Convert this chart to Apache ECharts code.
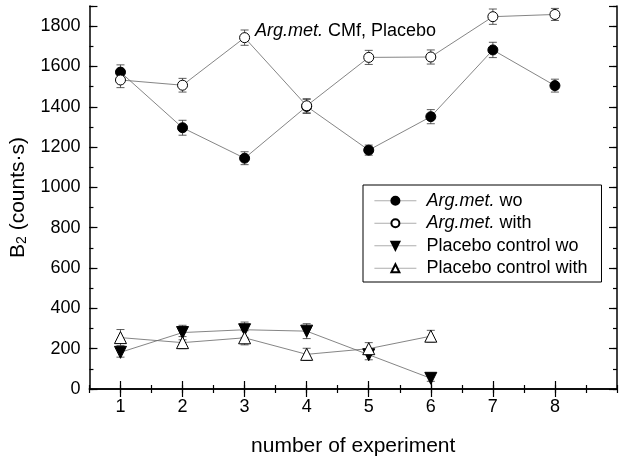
<!DOCTYPE html>
<html>
<head>
<meta charset="utf-8">
<script src="https://cdn.jsdelivr.net/npm/echarts@6/dist/echarts.min.js"></script>
<style>
  html, body { margin: 0; padding: 0; background: #fff; }
  #chart { width: 620px; height: 462px; }
</style>
</head>
<body>
<div id="chart"></div>
<script>
const experiments = [1, 2, 3, 4, 5, 6, 7, 8]
const argWo = [1572, 1296, 1145, 1402, 1185, 1351, 1682, 1505]
const argWoErr = [36, 37, 32, 35, 25, 35, 38, 32]
const argWith = [1533, 1507, 1743, 1405, 1645, 1647, 1847, 1858]
const argWithErr = [38, 34, 38, 35, 35, 35, 38, 30]
const placWo = [182, 280, 294, 287, 170, 53]
const placWoErr = [24, 36, 38, 37, 25, 15]
const placWith = [255, 230, 254, 172, 200, 262]
const placWithErr = [40, 30, 35, 30, 30, 29]
const xMajorTicks = [1, 2, 3, 4, 5, 6, 7, 8]

const font = 'Liberation Sans, Arial, Helvetica, sans-serif'
const chart = echarts.init(document.getElementById('chart'))

function pairs(vals) {
  return vals.map((v, i) => [experiments[i], v])
}
function errData(vals, errs) {
  return vals.map((v, i) => [experiments[i], v - errs[i], v + errs[i]])
}
function errSeries(name, vals, errs) {
  return {
    name: name,
    type: 'custom',
    z: 1,
    silent: true,
    data: errData(vals, errs),
    renderItem: function(params, api) {
      const lo = api.coord([api.value(0), api.value(1)])
      const hi = api.coord([api.value(0), api.value(2)])
      const w = 4
      const style = { stroke: '#333', lineWidth: 0.8 }
      return {
        type: 'group',
        children: [
          { type: 'line', shape: { x1: lo[0], y1: lo[1], x2: hi[0], y2: hi[1] }, style: style },
          { type: 'line', shape: { x1: lo[0] - w, y1: lo[1], x2: lo[0] + w, y2: lo[1] }, style: style },
          { type: 'line', shape: { x1: hi[0] - w, y1: hi[1], x2: hi[0] + w, y2: hi[1] }, style: style }
        ]
      }
    }
  }
}
function lineSeries(name, vals, symbol, rotate, size, filled) {
  return {
    name: name,
    type: 'line',
    z: 3,
    data: pairs(vals),
    symbol: symbol,
    symbolRotate: rotate,
    symbolSize: size,
    showAllSymbol: true,
    animation: false,
    lineStyle: { color: '#666', width: 0.8 },
    itemStyle: { color: filled ? '#000' : '#fff', borderColor: '#000', borderWidth: 1 }
  }
}

const axisLine = { show: true, lineStyle: { color: '#000', width: 1.5 } }
const xBase = { type: 'value', min: 0.5, max: 9, splitLine: { show: false } }
const yBase = { type: 'value', min: 0, max: 1900, splitLine: { show: false } }

chart.setOption({
  animation: false,
  grid: { left: 87, right: 2, top: 6, bottom: 61, containLabel: false },
  title: {
    text: '{i|Arg.met.} CMf, Placebo',
    left: 255,
    top: 22,
    padding: 0,
    textStyle: {
      fontFamily: font, fontSize: 18, fontWeight: 'normal', color: '#000',
      rich: { i: { fontFamily: font, fontSize: 18, fontStyle: 'italic', color: '#000' } }
    }
  },
  legend: {
    data: ['Arg.met. wo', 'Arg.met. with', 'Placebo control wo', 'Placebo control with'],
    orient: 'vertical',
    left: 363,
    top: 185,
    width: 243,
    padding: [5, 14, 3, 11],
    itemGap: 1,
    itemWidth: 42,
    itemHeight: 10,
    borderColor: '#000',
    borderWidth: 1,
    borderRadius: 0,
    selectedMode: false,
    lineStyle: { color: '#999', width: 0.8 },
    formatter: function(name) {
      if (name.indexOf('Arg.met. ') === 0) return '{i|Arg.met.} ' + name.slice(9)
      return name
    },
    textStyle: {
      fontFamily: font, fontSize: 18, color: '#000', lineHeight: 21.5, padding: [0, 0, 0, 5],
      rich: { i: { fontFamily: font, fontSize: 18, fontStyle: 'italic', color: '#000' } }
    }
  },
  xAxis: [
    Object.assign({}, xBase, {
      position: 'bottom',
      interval: 0.5,
      name: 'number of experiment',
      nameLocation: 'middle',
      nameGap: 47,
      nameTextStyle: { fontFamily: font, fontSize: 21, color: '#000' },
      axisLine: axisLine,
      axisTick: { show: true, inside: true, length: 4, lineStyle: { color: '#000', width: 1.2 } },
      axisLabel: {
        margin: 9, fontFamily: font, fontSize: 18, color: '#000',
        formatter: v => (Number.isInteger(v) && v <= 8 ? String(v) : '')
      }
    }),
    Object.assign({}, xBase, {
      position: 'bottom',
      axisLine: { show: false },
      axisTick: { show: true, inside: true, length: 8, customValues: xMajorTicks, lineStyle: { color: '#000', width: 1.2 } },
      axisLabel: { show: false }
    }),
    Object.assign({}, xBase, {
      position: 'top',
      interval: 0.5,
      axisLine: axisLine,
      axisTick: { show: true, inside: true, length: 4, lineStyle: { color: '#000', width: 1.2 } },
      axisLabel: { show: false }
    }),
    Object.assign({}, xBase, {
      position: 'top',
      axisLine: { show: false },
      axisTick: { show: true, inside: true, length: 8, customValues: xMajorTicks, lineStyle: { color: '#000', width: 1.2 } },
      axisLabel: { show: false }
    })
  ],
  yAxis: [
    Object.assign({}, yBase, {
      position: 'left',
      interval: 100,
      name: '{a|B}{s|2}{a| (counts·s)}',
      nameLocation: 'middle',
      nameGap: 55,
      nameRotate: 90,
      nameTextStyle: {
        fontFamily: font, fontSize: 21, color: '#000',
        rich: {
          a: { fontFamily: font, fontSize: 21, color: '#000' },
          s: { fontFamily: font, fontSize: 14, color: '#000', verticalAlign: 'bottom', padding: [8, 0, 0, 0] }
        }
      },
      axisLine: axisLine,
      axisTick: { show: true, inside: true, length: 4, lineStyle: { color: '#000', width: 1.2 } },
      axisLabel: {
        margin: 9, fontFamily: font, fontSize: 18, color: '#000',
        formatter: v => (v % 200 === 0 ? String(v) : '')
      }
    }),
    Object.assign({}, yBase, {
      position: 'left',
      interval: 200,
      axisLine: { show: false },
      axisTick: { show: true, inside: true, length: 8, lineStyle: { color: '#000', width: 1.2 } },
      axisLabel: { show: false }
    }),
    Object.assign({}, yBase, {
      position: 'right',
      interval: 100,
      axisLine: axisLine,
      axisTick: { show: true, inside: true, length: 4, lineStyle: { color: '#000', width: 1.2 } },
      axisLabel: { show: false }
    }),
    Object.assign({}, yBase, {
      position: 'right',
      interval: 200,
      axisLine: { show: false },
      axisTick: { show: true, inside: true, length: 8, lineStyle: { color: '#000', width: 1.2 } },
      axisLabel: { show: false }
    })
  ],
  series: [
    errSeries('err1', argWo, argWoErr),
    errSeries('err2', argWith, argWithErr),
    errSeries('err3', placWo, placWoErr),
    errSeries('err4', placWith, placWithErr),
    lineSeries('Arg.met. wo', argWo, 'circle', 0, 10, true),
    lineSeries('Arg.met. with', argWith, 'circle', 0, 10, false),
    lineSeries('Placebo control wo', placWo, 'triangle', 180, 12, true),
    lineSeries('Placebo control with', placWith, 'triangle', 0, 12, false)
  ]
})
window.addEventListener('resize', () => chart.resize())
</script>
</body>
</html>
